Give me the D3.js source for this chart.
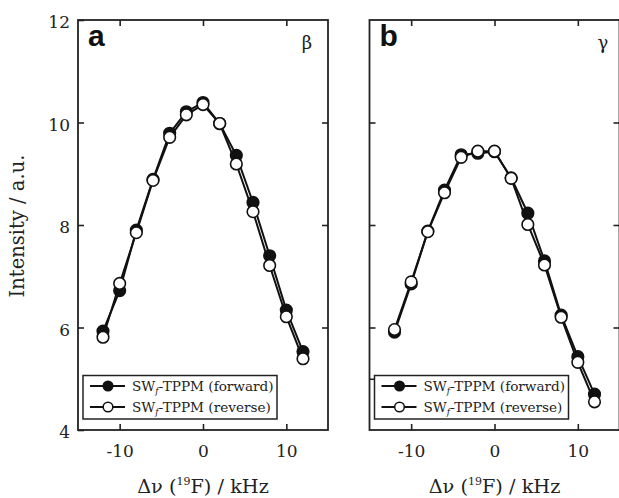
<!DOCTYPE html>
<html><head><meta charset="utf-8">
<script src="https://cdn.jsdelivr.net/npm/d3@7"></script>
<style>body{margin:0;background:#fff}svg{display:block}</style>
</head><body>
<script>
const offsets = [-12,-10,-8,-6,-4,-2,0,2,4,6,8,10,12];
const aForward = [5.93,6.72,7.90,8.89,9.79,10.21,10.39,9.98,9.36,8.44,7.40,6.34,5.53];
const aReverse = [5.81,6.86,7.85,8.87,9.71,10.15,10.35,9.98,9.19,8.26,7.21,6.21,5.39];
const bForward = [5.91,6.85,7.88,8.68,9.37,9.40,9.43,8.92,8.23,7.30,6.24,5.43,4.70];
const bReverse = [5.96,6.89,7.87,8.63,9.32,9.44,9.44,8.91,8.01,7.22,6.20,5.32,4.55];
const xTicks = [-10,0,10];
const yTickLabels = [4,6,8,10,12];
const bLeftTicks = [5,6,8,10];
const yRightTicks = [6,8,10];
const seriesNames = ["forward","reverse"];

const W=619,H=498;
const svg=d3.select("body").append("svg").attr("width",W).attr("height",H);
const serif="DejaVu Serif";
const y=d3.scaleLinear().domain([4,12]).range([430,20]);

const panels=[
 {label:"a",sym:"β",symDx:21,x0:78,x1:328,fw:aForward,rv:aReverse,leftLabels:true,leftTicks:yTickLabels},
 {label:"b",sym:"γ",symDx:16.5,x0:369.5,x1:619.5,fw:bForward,rv:bReverse,leftLabels:false,leftTicks:bLeftTicks}
];

panels.forEach(p=>{
  const x=d3.scaleLinear().domain([-15,15]).range([p.x0,p.x1]);
  const g=svg.append("g");
  const fmt=d=>String(d);
  const axB=g.append("g").attr("transform",`translate(0,${y(4)})`)
    .call(d3.axisBottom(x).tickValues(xTicks).tickSize(-6).tickPadding(15).tickFormat(fmt));
  const axT=g.append("g").attr("transform",`translate(0,${y(12)})`)
    .call(d3.axisTop(x).tickValues(xTicks).tickSize(-6).tickFormat(""));
  const axL=g.append("g").attr("transform",`translate(${p.x0},0)`)
    .call(d3.axisLeft(y).tickValues(p.leftLabels?yTickLabels:p.leftTicks).tickSize(-6).tickPadding(8)
      .tickFormat(p.leftLabels?fmt:""));
  const axR=g.append("g").attr("transform",`translate(${p.x1},0)`)
    .call(d3.axisRight(y).tickValues(yRightTicks).tickSize(-6).tickFormat(""));
  [axB,axT,axL,axR].forEach(a=>{
    a.select(".domain").remove();
    a.selectAll(".tick line").attr("stroke","#222").attr("stroke-width",1.6);
    a.selectAll(".tick text").attr("font-family",serif).attr("font-size",17).attr("fill","#222");
  });
  axL.selectAll(".tick text").attr("dy","0.45em");
  g.append("rect").attr("x",p.x0).attr("y",y(12)).attr("width",p.x1-p.x0).attr("height",y(4)-y(12))
    .attr("fill","none").attr("stroke","#222").attr("stroke-width",1.8);

  const line=d3.line().x((d,i)=>x(offsets[i])).y(d=>y(d));
  [[p.fw,"#111"],[p.rv,"#fff"]].forEach(([vals,fill])=>{
    g.append("path").datum(vals).attr("d",line).attr("fill","none").attr("stroke","#111").attr("stroke-width",2);
    g.selectAll(null).data(vals).join("circle")
      .attr("cx",(d,i)=>x(offsets[i])).attr("cy",d=>y(d)).attr("r",5.8)
      .attr("fill",fill).attr("stroke","#111").attr("stroke-width",1.6);
  });

  g.append("text").attr("x",p.x0+10).attr("y",46).text(p.label)
    .attr("font-family","Liberation Sans").attr("font-weight","bold").attr("font-size",30).attr("fill","#111");
  g.append("text").attr("x",p.x1-p.symDx).attr("y",49).attr("text-anchor","middle").text(p.sym)
    .attr("font-family",serif).attr("font-size",18).attr("fill","#222");

  const lx=p.x0+5, ly=375.5, lw=194, lh=43.5;
  g.append("rect").attr("x",lx).attr("y",ly).attr("width",lw).attr("height",lh)
    .attr("fill","#fff").attr("stroke","#222").attr("stroke-width",1.5);
  seriesNames.forEach((nm,i)=>{
    const cy=ly+10.5+i*21;
    g.append("line").attr("x1",lx+7).attr("x2",lx+42).attr("y1",cy).attr("y2",cy)
      .attr("stroke","#111").attr("stroke-width",2);
    g.append("circle").attr("cx",lx+25).attr("cy",cy).attr("r",4.8)
      .attr("fill",i===0?"#111":"#fff").attr("stroke","#111").attr("stroke-width",1.5);
    const t=g.append("text").attr("x",lx+49).attr("y",cy+4.5)
      .attr("font-family",serif).attr("font-size",13.6).attr("fill","#222");
    t.append("tspan").text("SW");
    t.append("tspan").text("f").attr("font-style","italic").attr("font-size",9).attr("dy",3);
    t.append("tspan").text(`-TPPM (${nm})`).attr("dy",-3);
  });

  const xt=g.append("text").attr("x",(p.x0+p.x1)/2).attr("y",493).attr("text-anchor","middle")
    .attr("font-family",serif).attr("font-size",19.3).attr("fill","#222");
  xt.append("tspan").text("Δν (");
  xt.append("tspan").text("19").attr("font-size",11).attr("dy",-8);
  xt.append("tspan").text("F) / kHz").attr("dy",8);
});

svg.append("text").attr("transform","translate(23.5,226) rotate(-90)").attr("text-anchor","middle")
  .attr("font-family",serif).attr("font-size",19.5).attr("fill","#222").text("Intensity / a.u.");
</script>
</body></html>
